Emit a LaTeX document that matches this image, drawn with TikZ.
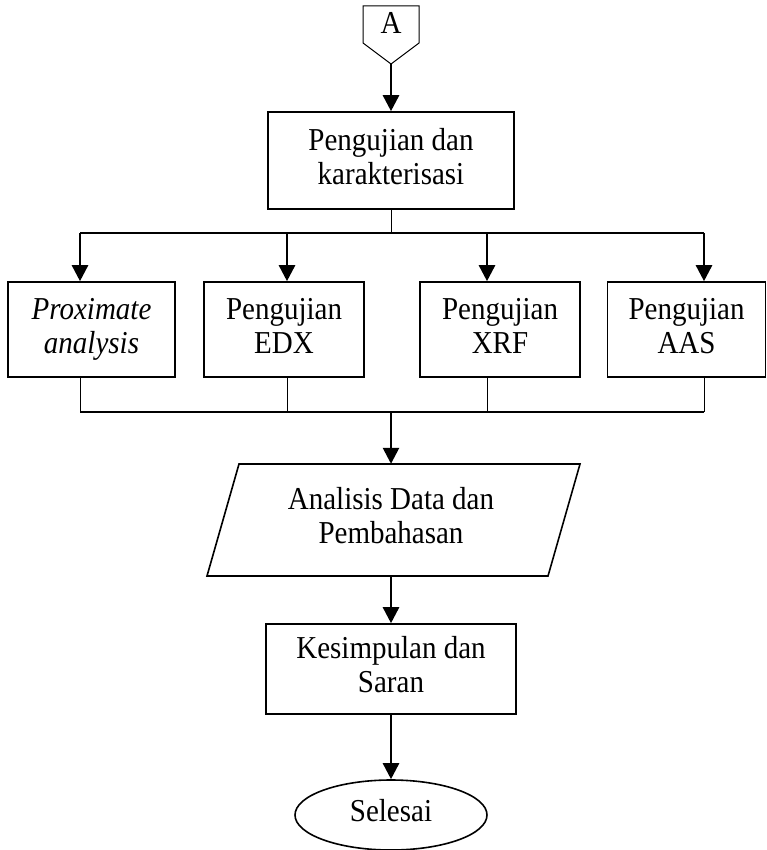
\documentclass[tikz,border=0pt]{standalone}
\usepackage{fontspec}
\setmainfont{Liberation Serif}
\usetikzlibrary{arrows.meta,shapes.geometric}

% slightly taller text, as in the reference
\newcommand{\tinggi}[1]{\scalebox{1}[1.1]{\begin{tabular}{@{}c@{}}#1\end{tabular}}}

\begin{document}
\begin{tikzpicture}[x=1pt, y=1pt,
    huruf/.style={font=\fontsize{29}{31}\selectfont},
    kotak/.style={draw, line width=1.6pt, inner sep=0pt, huruf},
    panah/.style={-{Triangle[length=16pt,width=16pt]}, line width=2.6pt},
    garis/.style={line width=1pt}]
    \useasboundingbox (0,0) rectangle (767,-850);

    % Off-page connector A
    \node[huruf, inner sep=0pt] (conA) at (391,-27) {\tinggi{A}};
    \draw[line width=1pt] (363,-6) -- (419,-6) -- (419,-43) -- (391,-64) coordinate (conAbot) -- (363,-43) -- cycle;

    % Pengujian dan karakterisasi
    \node[kotak, minimum width=246, minimum height=97] (uji) at (391,-160.5) {\tinggi{Pengujian dan\\karakterisasi}};
    \draw[panah] (conAbot) -- (uji.north);

    % Four tests
    \node[kotak, minimum width=167, minimum height=95] (prox) at (91.5,-329.5) {\tinggi{\itshape Proximate\\\itshape analysis}};
    \node[kotak, minimum width=160, minimum height=95] (edx) at (284,-329.5) {\tinggi{Pengujian\\EDX}};
    \node[kotak, minimum width=160, minimum height=95] (xrf) at (500,-329.5) {\tinggi{Pengujian\\XRF}};
    \node[kotak, minimum width=158, minimum height=95] (aas) at (686.5,-329.5) {\tinggi{Pengujian\\AAS}};

    % Branch lines
    \coordinate (cabang) at (391,-233);
    \draw[garis] (uji.south) -- (cabang);
    \draw[line width=2.6pt] (80,-233) -- (704,-233);
    \draw[panah] (80,-233) -- (prox.north -| 80,0);
    \draw[panah] (287,-233) -- (edx.north -| 287,0);
    \draw[panah] (487,-233) -- (xrf.north -| 487,0);
    \draw[panah] (704,-233) -- (aas.north -| 704,0);

    % Merge lines
    \coordinate (gabung) at (391,-412);
    \draw[garis] (prox.south -| 80,0) -- (80,-412);
    \draw[garis] (edx.south -| 287,0) -- (287,-412);
    \draw[garis] (xrf.south -| 487,0) -- (487,-412);
    \draw[garis] (aas.south -| 704,0) -- (704,-412);
    \draw[line width=1.8pt] (80,-412) -- (704,-412);

    % Analisis Data dan Pembahasan (parallelogram)
    \node[huruf, inner sep=0pt, minimum height=112] (analisis) at (391,-520) {\tinggi{Analisis Data dan\\Pembahasan}};
    \draw[line width=1.6pt] (207,-576) -- (239,-464) -- (580,-464) -- (548,-576) -- cycle;
    \draw[panah] (gabung) -- (analisis.north);

    % Kesimpulan dan Saran
    \node[kotak, minimum width=250, minimum height=90] (simpul) at (391,-669) {\tinggi{Kesimpulan dan\\Saran}};
    \draw[panah] (analisis.south) -- (simpul.north);

    % Selesai
    \node[draw, ellipse, line width=1.6pt, inner sep=0pt, minimum width=192, minimum height=70, huruf] (selesai) at (391,-815) {\tinggi{Selesai}};
    \draw[panah] (simpul.south) -- (selesai.north);
\end{tikzpicture}
\end{document}
